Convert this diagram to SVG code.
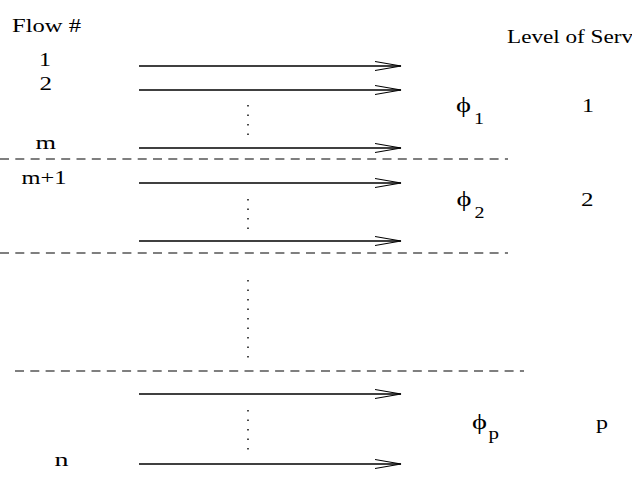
<svg xmlns="http://www.w3.org/2000/svg" width="632" height="484" viewBox="0 0 632 484">
<style>
text{font-family:"Liberation Serif","Times New Roman",serif;fill:#000}
.t{font-size:19px}
.h{font-size:18px}
.s{font-size:16px}
.ph{font-size:22px}
.f{stroke:#000;stroke-width:1.3;fill:none}
.d{stroke:#555;stroke-width:1.3;stroke-dasharray:9 6.3;fill:none}
.dot{stroke:#000;stroke-width:1.4;stroke-dasharray:1.4 8.1;fill:none}
</style>
<defs>
<marker id="ah" markerUnits="userSpaceOnUse" markerWidth="30" markerHeight="14" refX="26" refY="6" orient="auto">
<path d="M0,1.5 L26,6 L0,10.5" fill="none" stroke="#000" stroke-width="1.1"/>
</marker>
</defs>
<rect width="632" height="484" fill="#fff"/>
<g id="labels">
<text class="h" x="12" y="32" textLength="69" lengthAdjust="spacingAndGlyphs">Flow #</text>
<text class="h" x="507" y="43" textLength="126" lengthAdjust="spacingAndGlyphs">Level of Serv</text>
<text class="t" x="39" y="66" textLength="12" lengthAdjust="spacingAndGlyphs">1</text>
<text class="t" x="39.5" y="89.5" textLength="12.5" lengthAdjust="spacingAndGlyphs">2</text>
<text class="t" font-size="21" x="35.5" y="149" textLength="20.5" lengthAdjust="spacingAndGlyphs">m</text>
<text class="t" x="21.5" y="183.5" textLength="45" lengthAdjust="spacingAndGlyphs">m+1</text>
<text class="t" x="54.5" y="466" textLength="14" lengthAdjust="spacingAndGlyphs">n</text>
</g>
<g id="class1">
<text class="ph" x="456" y="112" textLength="15" lengthAdjust="spacingAndGlyphs">ϕ</text>
<text class="s" x="474" y="124" textLength="10" lengthAdjust="spacingAndGlyphs">1</text>
<text class="t" x="582" y="112" textLength="12" lengthAdjust="spacingAndGlyphs">1</text>
</g>
<g id="class2">
<text class="ph" x="456.5" y="206" textLength="15" lengthAdjust="spacingAndGlyphs">ϕ</text>
<text class="s" x="474.5" y="218" textLength="10" lengthAdjust="spacingAndGlyphs">2</text>
<text class="t" x="581" y="206" textLength="12.5" lengthAdjust="spacingAndGlyphs">2</text>
</g>
<g id="classp">
<text class="ph" x="472" y="429" textLength="15" lengthAdjust="spacingAndGlyphs">ϕ</text>
<text class="s" x="488.5" y="439" textLength="10.5" lengthAdjust="spacingAndGlyphs">p</text>
<text class="t" x="596" y="429" textLength="12" lengthAdjust="spacingAndGlyphs">p</text>
</g>
<g id="connectors">
<line class="f" x1="139" y1="66" x2="401" y2="66" marker-end="url(#ah)"/>
<line class="f" x1="139" y1="90" x2="401" y2="90" marker-end="url(#ah)"/>
<line class="f" x1="139" y1="148" x2="401" y2="148" marker-end="url(#ah)"/>
<line class="f" x1="139" y1="183" x2="401" y2="183" marker-end="url(#ah)"/>
<line class="f" x1="139" y1="241" x2="401" y2="241" marker-end="url(#ah)"/>
<line class="f" x1="139" y1="394" x2="401" y2="394" marker-end="url(#ah)"/>
<line class="f" x1="139" y1="464" x2="401" y2="464" marker-end="url(#ah)"/>
<line class="d" x1="0" y1="159" x2="508" y2="159"/>
<line class="d" x1="0" y1="253" x2="508" y2="253"/>
<line class="d" x1="15" y1="371" x2="524" y2="371"/>
<line class="dot" x1="248" y1="105" x2="248" y2="136"/>
<line class="dot" x1="248" y1="199" x2="248" y2="230"/>
<line class="dot" x1="248" y1="280" x2="248" y2="358"/>
<line class="dot" x1="248" y1="410" x2="248" y2="450"/>
</g>
</svg>
